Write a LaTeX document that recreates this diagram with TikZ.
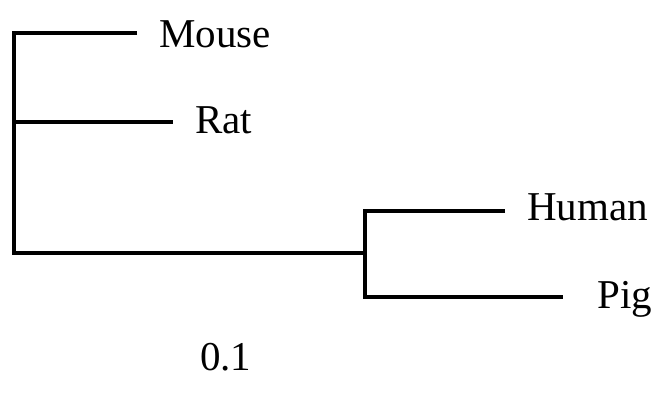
\documentclass[tikz,border=0pt]{standalone}
\usepackage{fontspec}
\setmainfont{Liberation Serif}
\begin{document}
\begin{tikzpicture}[x=1pt,y=-1pt,
  branch/.style={line width=3.5pt, line join=miter, line cap=butt},
  leaf/.style={anchor=base west, inner sep=0pt, font=\fontsize{41}{41}\selectfont}]
\useasboundingbox (0,0) rectangle (653,399);
% internal nodes
\coordinate (root) at (14,253);
\coordinate (rodent) at (14,33);
\coordinate (rodentRat) at (14,122);
\coordinate (hp) at (365,253);
\coordinate (hpTop) at (365,211);
\coordinate (hpBot) at (365,297);
% leaf ends
\coordinate (mouseEnd) at (137,33);
\coordinate (ratEnd) at (173,122);
\coordinate (humanEnd) at (505,211);
\coordinate (pigEnd) at (563,297);
% labels
\node[leaf] (mouse) at (159,47) {Mouse};
\node[leaf] (rat) at (195,133) {Rat};
\node[leaf] (human) at (527,220) {Human};
\node[leaf] (pig) at (597,308) {Pig};
\node[leaf] (scale) at (200,370) {0.1};
% branches
\draw[branch] (mouseEnd) -- (rodent) -- (root) -- (hp);
\draw[branch] (rodentRat) -- (ratEnd);
\draw[branch] (humanEnd) -- (hpTop) -- (hpBot) -- (pigEnd);
\end{tikzpicture}
\end{document}
